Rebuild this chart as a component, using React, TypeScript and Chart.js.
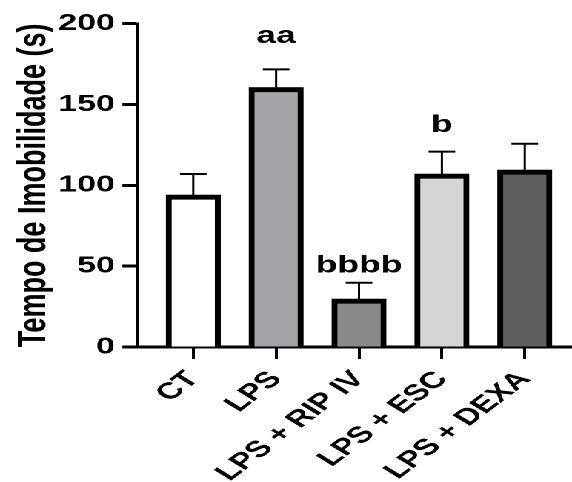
import React, { useEffect, useRef } from 'react';
import { Chart, registerables } from 'chart.js';

Chart.register(...registerables);

// ---- data ----
const groups = ['CT', 'LPS', 'LPS + RIP IV', 'LPS + ESC', 'LPS + DEXA'];
const means = [94, 160.5, 29.7, 107, 109.5];
const sems = [13, 11.2, 10, 13.8, 16.2];
const fills = ['#ffffff', '#a3a3a7', '#8a8a8a', '#d5d5d5', '#5e5e5e'];
const marks = ['', 'aa', 'bbbb', 'b', ''];
const markLevels: (number | null)[] = [null, 188, 46, 133, null];
const yTickValues = [0, 50, 100, 150, 200];
const yTitle = 'Tempo de Imobilidade (s)';

// The reference is drawn horizontally stretched; render narrower then scale.
const W = 386;
const H = 482;
const SX = 572 / W;
const FONT = "Arial, 'Liberation Sans', Helvetica, sans-serif";

const errorBarPlugin = {
  id: 'errorBars',
  afterDatasetsDraw(chart: any) {
    const { ctx, scales } = chart;
    const xs = scales.x;
    const ys = scales.y;
    ctx.save();
    ctx.strokeStyle = '#000';
    means.forEach((m, i) => {
      const px = xs.getPixelForValue(i);
      const base = ys.getPixelForValue(m);
      const top = ys.getPixelForValue(m + sems[i]);
      ctx.lineWidth = 1.5;
      ctx.beginPath();
      ctx.moveTo(px, base);
      ctx.lineTo(px, top);
      ctx.stroke();
      ctx.lineWidth = 2;
      ctx.beginPath();
      ctx.moveTo(px - 9, top);
      ctx.lineTo(px + 9, top);
      ctx.stroke();
    });
    ctx.fillStyle = '#000';
    ctx.font = `bold 24px ${FONT}`;
    ctx.textAlign = 'center';
    ctx.textBaseline = 'alphabetic';
    marks.forEach((t, i) => {
      const lv = markLevels[i];
      if (!t || lv === null) return;
      ctx.fillText(t, xs.getPixelForValue(i), ys.getPixelForValue(lv));
    });
    ctx.restore();
  },
};

export default function App() {
  const ref = useRef<HTMLCanvasElement | null>(null);

  useEffect(() => {
    if (!ref.current) return;
    const chart = new Chart(ref.current, {
      type: 'bar',
      data: {
        datasets: [
          {
            data: means.map((v, i) => ({ x: i, y: v })),
            backgroundColor: fills,
            borderColor: '#000',
            borderWidth: { top: 5, left: 4, right: 4, bottom: 0 } as any,
            borderSkipped: false as any,
            barThickness: 36.5,
          },
        ],
      },
      options: {
        animation: false,
        responsive: false,
        devicePixelRatio: 2,
        layout: { padding: { top: 23.6, left: 0, right: 0, bottom: 0 } },
        plugins: {
          legend: { display: false },
          tooltip: { enabled: false },
        },
        scales: {
          x: {
            type: 'linear',
            min: -0.676,
            max: 4.57,
            offset: false,
            afterBuildTicks: (s: any) => {
              s.ticks = groups.map((_, i) => ({ value: i }));
            },
            afterFit: (s: any) => {
              s.height = H - 347;
              s.paddingLeft = 0;
              s.paddingRight = 0;
            },
            grid: {
              offset: false,
              drawOnChartArea: false,
              drawTicks: true,
              tickLength: 12,
              tickWidth: 2,
              tickColor: '#000',
              color: '#000',
            },
            border: { display: true, color: '#000', width: 3 },
            ticks: {
              autoSkip: false,
              minRotation: 48,
              maxRotation: 48,
              padding: 7,
              color: '#000',
              font: { family: FONT, size: 23, weight: 'bold' },
              callback: (v: any) => groups[Math.round(Number(v))] ?? '',
            },
          },
          y: {
            min: 0,
            max: 200,
            afterBuildTicks: (s: any) => {
              s.ticks = yTickValues.map((v) => ({ value: v }));
            },
            afterFit: (s: any) => {
              s.width = 92.6;
              s.paddingTop = 0;
              s.paddingBottom = 0;
            },
            grid: {
              drawOnChartArea: false,
              drawTicks: true,
              tickLength: 10,
              tickWidth: 3,
              tickColor: '#000',
              color: '#000',
            },
            border: { display: true, color: '#000', width: 2 },
            ticks: {
              padding: 5,
              color: '#000',
              font: { family: FONT, size: 23, weight: 'bold' },
            },
            title: {
              display: true,
              text: yTitle,
              color: '#000',
              padding: { top: 7, bottom: 0 },
              font: { family: FONT, size: 27, weight: 'bold' },
            },
          },
        },
      } as any,
      plugins: [errorBarPlugin],
    });
    return () => chart.destroy();
  }, []);

  return (
    <div
      style={{
        position: 'absolute',
        left: 0,
        top: 0,
        width: W,
        height: H,
        transform: `scaleX(${SX})`,
        transformOrigin: '0 0',
        background: '#fff',
      }}
    >
      <canvas ref={ref} width={W} height={H} style={{ width: W, height: H, display: 'block' }} />
    </div>
  );
}
